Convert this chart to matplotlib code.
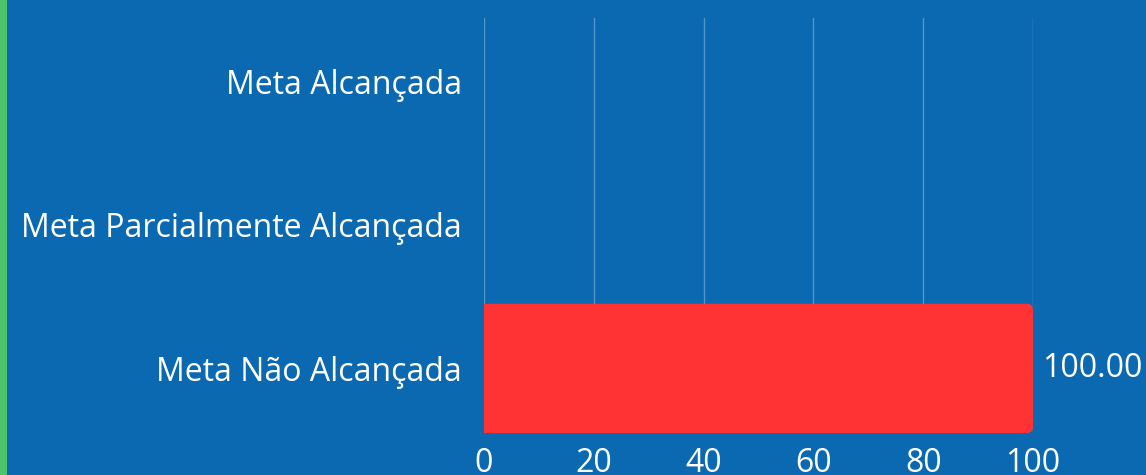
import matplotlib.pyplot as plt
from matplotlib.patches import FancyBboxPatch, Rectangle

categories = ['Meta Não Alcançada', 'Meta Parcialmente Alcançada', 'Meta Alcançada']
values = [100.0, 0.0, 0.0]
xticks = [0, 20, 40, 60, 80, 100]

bg = '#0a69b1'
red = '#ff3333'

plt.rcParams['font.family'] = ['Open Sans', 'DejaVu Sans']

fig = plt.figure(figsize=(11.46, 4.75), dpi=100, facecolor=bg)
fig.patches.append(Rectangle((0, 0), 7 / 1146, 1, transform=fig.transFigure,
                             facecolor='#4cc26a', edgecolor='none'))
ax = fig.add_axes([484 / 1146, 42 / 475, 549 / 1146, 415 / 475])
ax.set_facecolor(bg)

ax.set_xlim(0, 100)
ax.set_ylim(-0.45, 2.44)
ax.set_xticks(xticks)
ax.set_yticks(range(len(categories)))
ax.set_yticklabels(categories)
ax.tick_params(length=0, labelcolor='white', labelsize=23)
ax.tick_params(axis='y', pad=16)
ax.tick_params(axis='x', pad=10)
for s in ax.spines.values():
    s.set_visible(False)
ax.grid(axis='x', color='white', alpha=0.3, lw=1)
ax.set_axisbelow(True)

h = 0.9
for i, v in enumerate(values):
    if v <= 0:
        continue
    y0 = i - h / 2
    ax.add_patch(FancyBboxPatch((0, y0), v, h,
                                boxstyle='round,pad=0,rounding_size=1.1',
                                mutation_aspect=0.038, facecolor=red,
                                edgecolor='none', zorder=3))
    ax.add_patch(Rectangle((0, y0), v / 2, h, facecolor=red,
                           edgecolor='none', zorder=3))
    ax.text(v + 1.6, i, f'{v:.2f}', color='white', fontsize=23,
            va='center', ha='left', clip_on=False)

fig.savefig('out.png', dpi=100, facecolor=bg)
